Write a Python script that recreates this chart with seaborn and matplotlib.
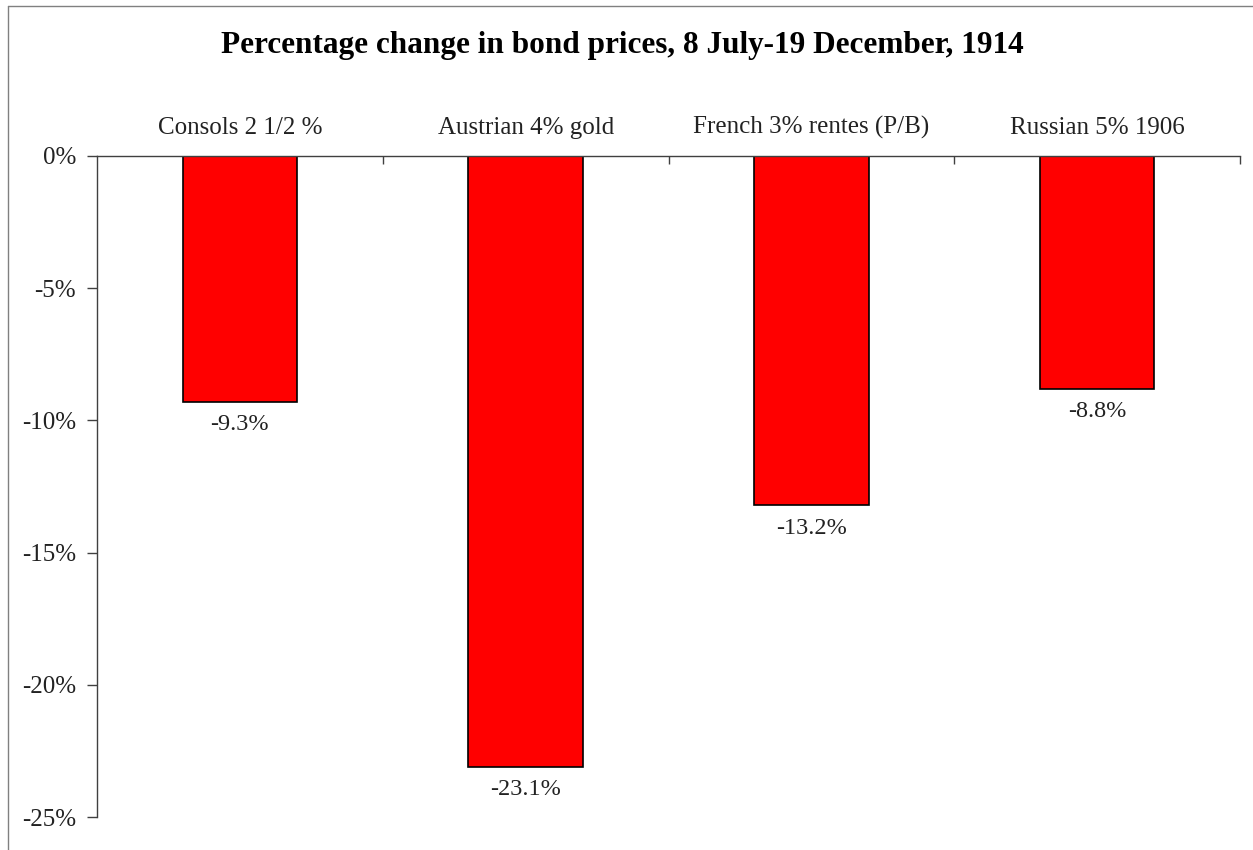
import matplotlib
matplotlib.use("Agg")
import matplotlib.pyplot as plt
import seaborn as sns
import pandas as pd
from matplotlib.ticker import FixedLocator, FuncFormatter
from matplotlib.lines import Line2D

categories = ["Consols 2 1/2 %", "Austrian 4% gold", "French 3% rentes (P/B)", "Russian 5% 1906"]
values = [-9.3, -23.1, -13.2, -8.8]
yticks = [0, -5, -10, -15, -20, -25]
title = "Percentage change in bond prices, 8 July-19 December, 1914"

sns.set_theme(style="white")
plt.rcParams['font.family'] = ['Liberation Serif', 'DejaVu Serif']

df = pd.DataFrame({"cat": categories, "val": values})

fig = plt.figure(figsize=(12.53, 8.5), dpi=100)
ax = fig.add_axes([97/1253, 1-817/850, (1240-97)/1253, (817-156)/850])

sns.barplot(data=df, x="cat", y="val", order=categories, color="#FF0000",
            width=0.4, edgecolor="black", linewidth=1.2, saturation=1, ax=ax)

ax.set_xlim(-0.5, 3.5)
ax.set_ylim(-25, 0)
ax.set_yticks(yticks)
ax.yaxis.set_major_formatter(FuncFormatter(lambda v, p: f"{v:.0f}%"))
ax.tick_params(axis='y', direction='out', length=7, width=1, colors='#404040',
               labelsize=18, labelcolor='#222222', pad=8, left=True)

ax.xaxis.tick_top()
ax.xaxis.set_label_position('top')
ax.set_xticks(range(len(categories)))
ax.set_xticklabels(categories)
ax.tick_params(axis='x', which='major', length=0, labelsize=18, labelcolor='#222222', pad=12)
ax.xaxis.set_minor_locator(FixedLocator([0.5, 1.5, 2.5, 3.5]))
ax.tick_params(axis='x', which='minor', direction='in', length=6, width=1, colors='#404040', top=True)
ax.set_xlabel("")
ax.set_ylabel("")

for s in ['right', 'bottom']:
    ax.spines[s].set_visible(False)
for s in ['left', 'top']:
    ax.spines[s].set_visible(True)
    ax.spines[s].set_color('#404040')
    ax.spines[s].set_linewidth(1)

for i, v in enumerate(values):
    ax.annotate(f"{v:.1f}%", xy=(i, v), xytext=(0, -9), textcoords='offset points',
                ha='center', va='top', fontsize=17.5, color='#222222')

fig.text(622/1253, 1-45/850, title, ha='center', va='center', fontsize=22.5,
         fontweight='bold', color='black')

# figure frame (left and top edges)
fig.add_artist(Line2D([8/1253, 8/1253], [0, 1-6/850], transform=fig.transFigure, color='#808080', lw=1))
fig.add_artist(Line2D([8/1253, 1], [1-6/850, 1-6/850], transform=fig.transFigure, color='#808080', lw=1))

fig.savefig("out.png", dpi=100, facecolor='white')
